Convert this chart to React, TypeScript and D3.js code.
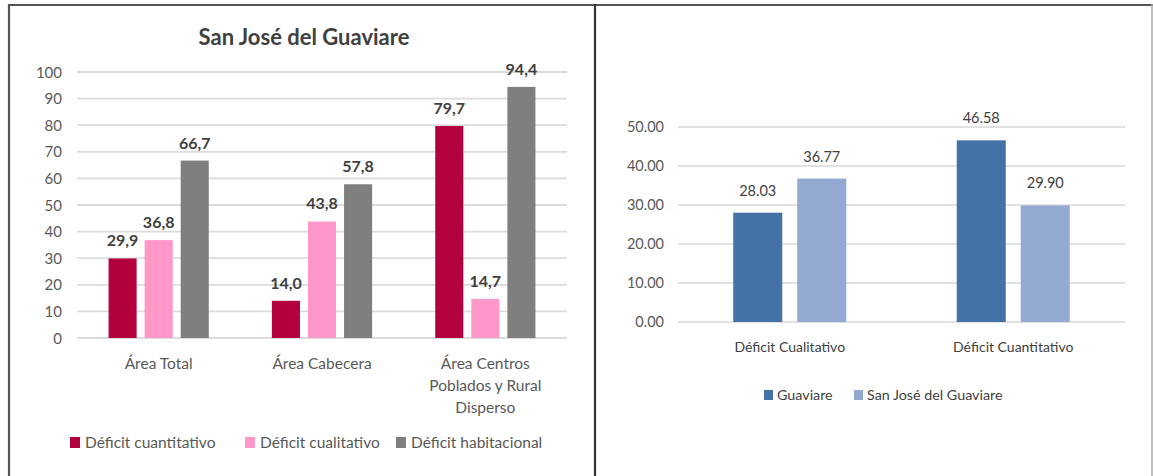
import React from "react";
import * as d3 from "d3";

// ---- Left chart data ----
const leftTitle = "San José del Guaviare";
const leftCategories = ["Área Total", "Área Cabecera", "Área Centros Poblados y Rural Disperso"];
const leftCategoryLines = [["Área Total"], ["Área Cabecera"], ["Área Centros", "Poblados y Rural", "Disperso"]];
const leftSeries = ["Déficit cuantitativo", "Déficit cualitativo", "Déficit habitacional"];
const cuantitativo = [29.9, 14.0, 79.7];
const cualitativo = [36.8, 43.8, 14.7];
const habitacional = [66.7, 57.8, 94.4];
const leftTicks = [0, 10, 20, 30, 40, 50, 60, 70, 80, 90, 100];
const leftColors = ["#b3003e", "#ff97c9", "#7f7f7f"];

// ---- Right chart data ----
const rightCategories = ["Déficit Cualitativo", "Déficit Cuantitativo"];
const rightSeries = ["Guaviare", "San José del Guaviare"];
const guaviare = [28.03, 46.58];
const sanJose = [36.77, 29.9];
const rightTicks = [0, 10, 20, 30, 40, 50];
const rightColors = ["#4472a6", "#93a9d1"];

const FONT = "Lato, 'Liberation Sans', sans-serif";

export default function App() {
  const W = 1153;
  const H = 476;

  // Left scales
  const lx = d3.scaleBand<string>().domain(leftCategories).range([77, 567]).padding(0);
  const lxi = d3.scaleBand<string>().domain(leftSeries).range([0, lx.bandwidth()]).paddingInner(0.222).paddingOuter(0.875);
  const ly = d3.scaleLinear().domain([0, 100]).range([338, 72]);
  const leftValues = [cuantitativo, cualitativo, habitacional];

  // Right scales
  const rx = d3.scaleBand<string>().domain(rightCategories).range([678, 1125]).padding(0);
  const rxi = d3.scaleBand<string>().domain(rightSeries).range([0, rx.bandwidth()]).paddingInner(0.234).paddingOuter(0.863);
  const ry = d3.scaleLinear().domain([0, 50]).range([322, 127]);
  const rightValues = [guaviare, sanJose];

  const fmtComma = (v: number) => d3.format(".1f")(v).replace(".", ",");
  const fmt2 = d3.format(".2f");

  const leftLegendX = [70, 245, 396];
  const rightLegendX = [764, 854];

  return (
    <div style={{ position: "absolute", left: 0, top: 0 }}>
      <svg width={W} height={H} style={{ display: "block", background: "#fff" }} fontFamily={FONT}>
        <rect x={0} y={0} width={W} height={H} fill="#fff" />
        {/* frame */}
        <line x1={9} x2={1153} y1={5} y2={5} stroke="#555" strokeWidth={2.2} />
        <line x1={9} x2={9} y1={4} y2={476} stroke="#555" strokeWidth={2.2} />
        <line x1={595} x2={595} y1={4} y2={476} stroke="#333" strokeWidth={2.2} />
        <line x1={1152} x2={1152} y1={4} y2={476} stroke="#aaa" strokeWidth={1.5} />

        {/* ===== Left chart ===== */}
        <text x={304} y={45} textAnchor="middle" fontSize={22} fontWeight="bold" fill="#404040">
          {leftTitle}
        </text>
        {leftTicks.map((t) => (
          <g key={"lt" + t}>
            <line x1={77} x2={567} y1={ly(t)} y2={ly(t)} stroke="#dcdcdc" strokeWidth={1.8} />
            <text x={62} y={ly(t) + 5.5} textAnchor="end" fontSize={15} fill="#595959">
              {t}
            </text>
          </g>
        ))}
        {leftCategories.map((c, ci) => (
          <g key={"lc" + c}>
            {leftSeries.map((s, si) => {
              const v = leftValues[si][ci];
              const x = (lx(c) ?? 0) + (lxi(s) ?? 0);
              return (
                <g key={s}>
                  <rect x={x} y={ly(v)} width={lxi.bandwidth()} height={ly(0) - ly(v)} fill={leftColors[si]} />
                  <text x={x + lxi.bandwidth() / 2} y={ly(v) - 12} textAnchor="middle" fontSize={16} fontWeight="bold" fill="#404040">
                    {fmtComma(v)}
                  </text>
                </g>
              );
            })}
            {leftCategoryLines[ci].map((ln, li) => (
              <text key={li} x={(lx(c) ?? 0) + lx.bandwidth() / 2} y={369 + li * 22} textAnchor="middle" fontSize={15.5} fill="#595959">
                {ln}
              </text>
            ))}
          </g>
        ))}
        {leftSeries.map((s, si) => (
          <g key={"ll" + s}>
            <rect x={leftLegendX[si]} y={437} width={10} height={11} fill={leftColors[si]} />
            <text x={leftLegendX[si] + 15} y={448} fontSize={15.5} fill="#595959">
              {s}
            </text>
          </g>
        ))}

        {/* ===== Right chart ===== */}
        {rightTicks.map((t) => (
          <g key={"rt" + t}>
            <line x1={678} x2={1125} y1={ry(t)} y2={ry(t)} stroke="#d9d9d9" strokeWidth={1.5} />
            <text x={664} y={ry(t) + 5} textAnchor="end" fontSize={14.5} fill="#595959">
              {fmt2(t)}
            </text>
          </g>
        ))}
        {rightCategories.map((c, ci) => (
          <g key={"rc" + c}>
            {rightSeries.map((s, si) => {
              const v = rightValues[si][ci];
              const x = (rx(c) ?? 0) + (rxi(s) ?? 0);
              return (
                <g key={s}>
                  <rect x={x} y={ry(v)} width={rxi.bandwidth()} height={ry(0) - ry(v)} fill={rightColors[si]} />
                  <text x={x + rxi.bandwidth() / 2} y={ry(v) - 17} textAnchor="middle" fontSize={14.5} fill="#404040">
                    {fmt2(v)}
                  </text>
                </g>
              );
            })}
            <text x={(rx(c) ?? 0) + rx.bandwidth() / 2} y={352} textAnchor="middle" fontSize={14} fill="#404040">
              {c}
            </text>
          </g>
        ))}
        {rightSeries.map((s, si) => (
          <g key={"rl" + s}>
            <rect x={rightLegendX[si]} y={390} width={9} height={10} fill={rightColors[si]} />
            <text x={rightLegendX[si] + 13} y={400} fontSize={14.3} fill="#404040">
              {s}
            </text>
          </g>
        ))}
      </svg>
    </div>
  );
}
